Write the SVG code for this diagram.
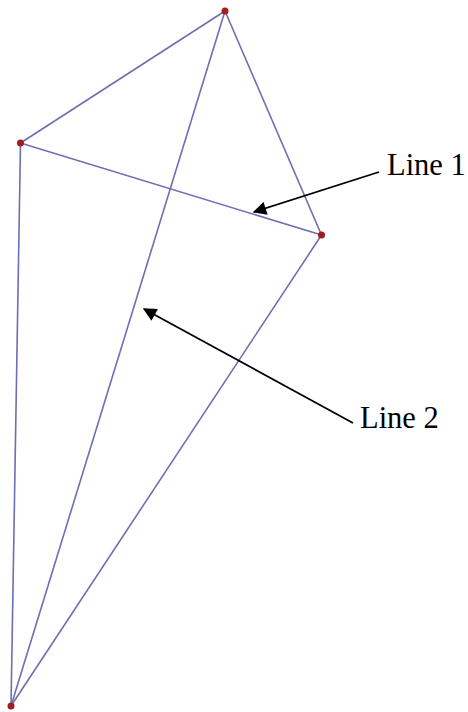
<svg xmlns="http://www.w3.org/2000/svg" width="468" height="712" viewBox="0 0 468 712">
<style>
.edge{stroke:#6e6eb4;stroke-width:1.6;fill:none}
.pt{fill:#a51c1c}
.ptr{stroke:#000;stroke-width:1.8;fill:none}
.lbl{font-family:"Liberation Serif","Times New Roman",serif;font-size:30.5px;fill:#000}
</style>
<defs>
<marker id="ah" viewBox="0 0 10 10" refX="9" refY="5" markerWidth="9" markerHeight="7.5" markerUnits="strokeWidth" orient="auto">
<path d="M0,0 L10,5 L0,10 z" fill="#000"/>
</marker>
</defs>
<rect width="468" height="712" fill="#fff"/>
<g id="edges">
<line class="edge" x1="225" y1="11" x2="20.5" y2="143"/>
<line class="edge" x1="225" y1="11" x2="321.5" y2="235"/>
<line class="edge" x1="20.5" y1="143" x2="321.5" y2="235"/>
<line class="edge" x1="20.5" y1="143" x2="11" y2="706"/>
<line class="edge" x1="225" y1="11" x2="11" y2="706"/>
<line class="edge" x1="321.5" y1="235" x2="11" y2="706"/>
</g>
<g id="points">
<circle id="pTop" class="pt" cx="225" cy="11" r="3.5"/>
<circle id="pLeft" class="pt" cx="20.5" cy="143" r="3.5"/>
<circle id="pRight" class="pt" cx="321.5" cy="235" r="3.5"/>
<circle id="pBottom" class="pt" cx="11" cy="706" r="3.5"/>
</g>
<g id="connectors">
<line class="ptr" x1="379" y1="172" x2="254" y2="212" marker-end="url(#ah)"/>
<line class="ptr" x1="353" y1="423" x2="144" y2="309" marker-end="url(#ah)"/>
</g>
<g id="label1"><text class="lbl" x="387" y="175">Line 1</text></g>
<g id="label2"><text class="lbl" x="360" y="428">Line 2</text></g>
</svg>
